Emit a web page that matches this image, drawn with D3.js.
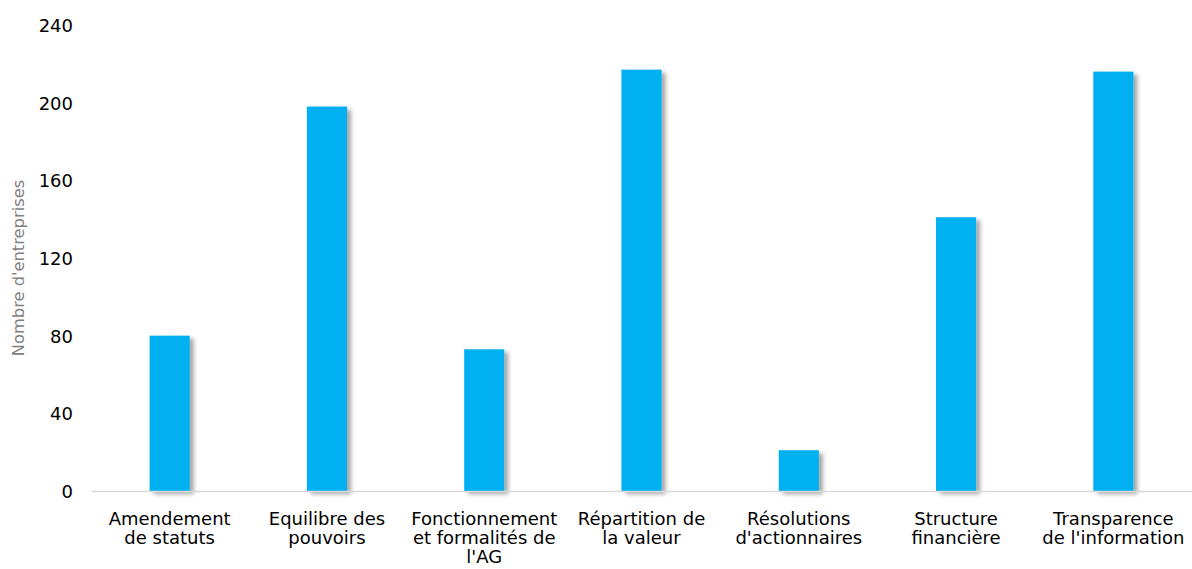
<!DOCTYPE html>
<html>
<head>
<meta charset="utf-8">
<script src="https://cdn.jsdelivr.net/npm/d3@7"></script>
<style>
  html, body { margin: 0; padding: 0; background: #fff; }
  svg { display: block; }
  text { font-family: "DejaVu Sans", Verdana, sans-serif; }
</style>
</head>
<body>
<svg id="chart" width="1192" height="569"></svg>
<script>
// Catégories de résolutions (libellés sur plusieurs lignes)
const categories = [
  "Amendement de statuts",
  "Equilibre des pouvoirs",
  "Fonctionnement et formalités de l'AG",
  "Répartition de la valeur",
  "Résolutions d'actionnaires",
  "Structure financière",
  "Transparence de l'information"
];
const categoryLines = [
  ["Amendement", "de statuts"],
  ["Equilibre des", "pouvoirs"],
  ["Fonctionnement", "et formalités de", "l'AG"],
  ["Répartition de", "la valeur"],
  ["Résolutions", "d'actionnaires"],
  ["Structure", "financière"],
  ["Transparence", "de l'information"]
];
// Nombre d'entreprises par catégorie
const values = [80, 198, 73, 217, 21, 141, 216];
const yTicks = [0, 40, 80, 120, 160, 200, 240];
const yTitle = "Nombre d'entreprises";

const svg = d3.select("#chart");
const margin = { left: 91, right: 0, top: 25, bottom: 78 };
const W = 1192, H = 569;

const x = d3.scaleBand()
  .domain(categories)
  .range([margin.left, W - margin.right])
  .paddingInner(0.745)
  .paddingOuter(0.3725);

const y = d3.scaleLinear()
  .domain([0, 240])
  .range([H - margin.bottom, margin.top]);

// Ombre portée des barres
const defs = svg.append("defs");
const f = defs.append("filter").attr("id", "shadow")
  .attr("x", "-30%").attr("y", "-10%").attr("width", "160%").attr("height", "130%");
f.append("feDropShadow")
  .attr("dx", 4).attr("dy", 3).attr("stdDeviation", 2.2)
  .attr("flood-color", "#000").attr("flood-opacity", 0.35);

// Axe des ordonnées (libellés seulement)
const yAxis = d3.axisLeft(y).tickValues(yTicks).tickSize(0).tickPadding(0);
const gy = svg.append("g").attr("transform", "translate(73,0)").call(yAxis);
gy.select(".domain").remove();
gy.selectAll("text")
  .attr("font-size", 18)
  .attr("fill", "#000")
  .attr("dy", "0.36em");

// Titre de l'axe
svg.append("text")
  .attr("transform", `translate(24,${(y(0) + y(240)) / 2 + 10}) rotate(-90)`)
  .attr("text-anchor", "middle")
  .attr("font-size", 16.3)
  .attr("fill", "#7f7f7f")
  .text(yTitle);

// Barres
svg.append("g")
  .selectAll("rect")
  .data(values)
  .join("rect")
  .attr("x", (d, i) => x(categories[i]))
  .attr("width", x.bandwidth())
  .attr("y", d => y(d))
  .attr("height", d => y(0) - y(d))
  .attr("fill", "#00B0F0")
  .attr("filter", "url(#shadow)");

// Axe des abscisses
const xAxis = d3.axisBottom(x).tickSize(0).tickFormat("");
const gx = svg.append("g").attr("transform", `translate(0,${y(0)})`).call(xAxis);
gx.select(".domain").attr("stroke", "#d9d9d9").attr("stroke-width", 1.3);

const lineY = [34, 53, 72];
gx.selectAll(".tick").each(function (d, i) {
  const t = d3.select(this).select("text")
    .attr("font-size", 18)
    .attr("fill", "#000")
    .attr("text-anchor", "middle")
    .attr("y", 0)
    .attr("dy", null);
  t.text(null);
  categoryLines[i].forEach((line, k) => {
    t.append("tspan")
      .attr("x", 0)
      .attr("y", lineY[k])
      .text(line);
  });
});
</script>
</body>
</html>
